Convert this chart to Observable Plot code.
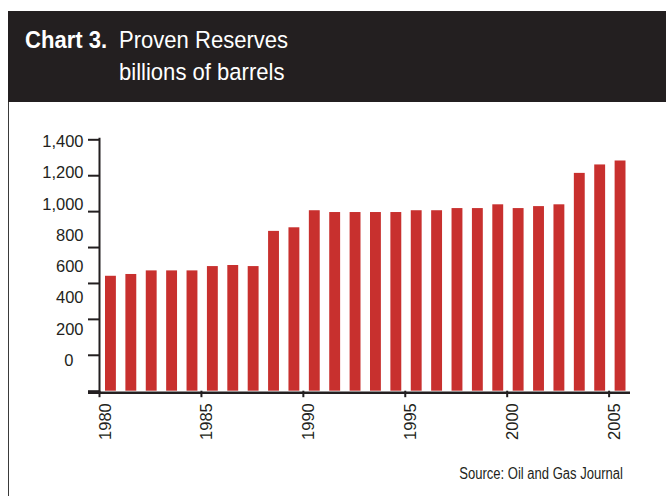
<!DOCTYPE html>
<html>
<head>
<meta charset="utf-8">
<script src="https://cdn.jsdelivr.net/npm/d3@7"></script>
<script src="https://cdn.jsdelivr.net/npm/@observablehq/plot@0.6"></script>
<style>
  html, body { margin: 0; padding: 0; background: #fff; }
  #page { position: relative; width: 666px; height: 496px; overflow: hidden; background: #fff; }
  #header { position: absolute; left: 8px; top: 11px; width: 658px; height: 91px; background: #231f20; }
  .t { position: absolute; color: #fff; font-family: "Liberation Sans", Arial, sans-serif; font-size: 24.5px; line-height: 24.5px; white-space: nowrap; transform: scaleX(0.9); transform-origin: left center; }
  #leftline { position: absolute; left: 8px; top: 102px; width: 1px; height: 394px; background: #3a3a3a; }
  #source { position: absolute; right: 43px; top: 465.5px; font-family: "Liberation Sans", Arial, sans-serif; font-size: 16px; line-height: 16px; color: #231f20; white-space: nowrap; transform: scaleX(0.815); transform-origin: right center; }
  #chart { position: absolute; left: 0; top: 102px; }
</style>
</head>
<body>
<div id="page">
  <div id="header">
    <div class="t" style="left:17px; top:17.3px; font-weight:bold;">Chart 3.</div>
    <div class="t" style="left:111px; top:17.3px;">Proven Reserves</div>
    <div class="t" style="left:111px; top:49.3px;">billions of barrels</div>
  </div>
  <div id="leftline"></div>
  <div id="chart"></div>
  <div id="source">Source: Oil and Gas Journal</div>
</div>
<script>
const years = [1980,1981,1982,1983,1984,1985,1986,1987,1988,1989,1990,1991,1992,1993,1994,1995,1996,1997,1998,1999,2000,2001,2002,2003,2004,2005];
const reserves = [640,650,670,670,670,694,700,694,890,910,1005,995,995,995,995,1005,1005,1017,1017,1038,1017,1028,1038,1213,1260,1282];
const yTicks = [0,200,400,600,800,1000,1200,1400];
const xTicks = [1980,1985,1990,1995,2000,2005];

const dark = "#231f20";
const red = "#c8302e";
const data = years.map((year, i) => ({year, value: reserves[i]}));

// The printed labels sit on a slightly compressed ladder relative to the ticks
const labelPos = v => 171 + v * 0.87;
const fmt = d3.format(",");
const font = '"Liberation Sans", Arial, sans-serif';

const chart = Plot.plot({
  width: 666,
  height: 394,
  marginLeft: 99,
  marginRight: 37,
  marginTop: 37.3,
  marginBottom: 105.3,
  style: {fontFamily: font, background: "transparent"},
  x: {domain: [1980, 2006], axis: null},
  y: {domain: [0, 1400], axis: null},
  marks: [
    Plot.rectY(data, {x1: "year", x2: d => d.year + 1, y: "value", fill: red, insetLeft: 6, insetRight: 3.5}),
    Plot.axisY(yTicks, {tickSize: 11, tickFormat: () => "", stroke: dark, strokeWidth: 2, label: null}),
    Plot.axisX(xTicks, {tickSize: 6.5, tickFormat: () => "", stroke: dark, strokeWidth: 2, label: null}),
    Plot.ruleX([1980], {stroke: dark, strokeWidth: 2, insetTop: -1.5, insetBottom: -3}),
    Plot.ruleY([0], {stroke: dark, strokeWidth: 2.5, dy: 1.5, insetLeft: -11, insetRight: -1}),
    Plot.text(yTicks.filter(d => d !== 0), {y: labelPos, text: fmt, frameAnchor: "left", textAnchor: "end", dx: -16, fontSize: 16.5, fill: dark}),
    Plot.text(yTicks.filter(d => d === 0), {y: labelPos, text: fmt, frameAnchor: "left", textAnchor: "end", dx: -26, fontSize: 16.5, fill: dark}),
    Plot.text(xTicks, {x: d => d, text: d => String(d), frameAnchor: "bottom", rotate: -90, textAnchor: "end", dy: 12, dx: 11, fontSize: 16.5, fill: dark})
  ]
});
document.getElementById("chart").appendChild(chart);
</script>
</body>
</html>
